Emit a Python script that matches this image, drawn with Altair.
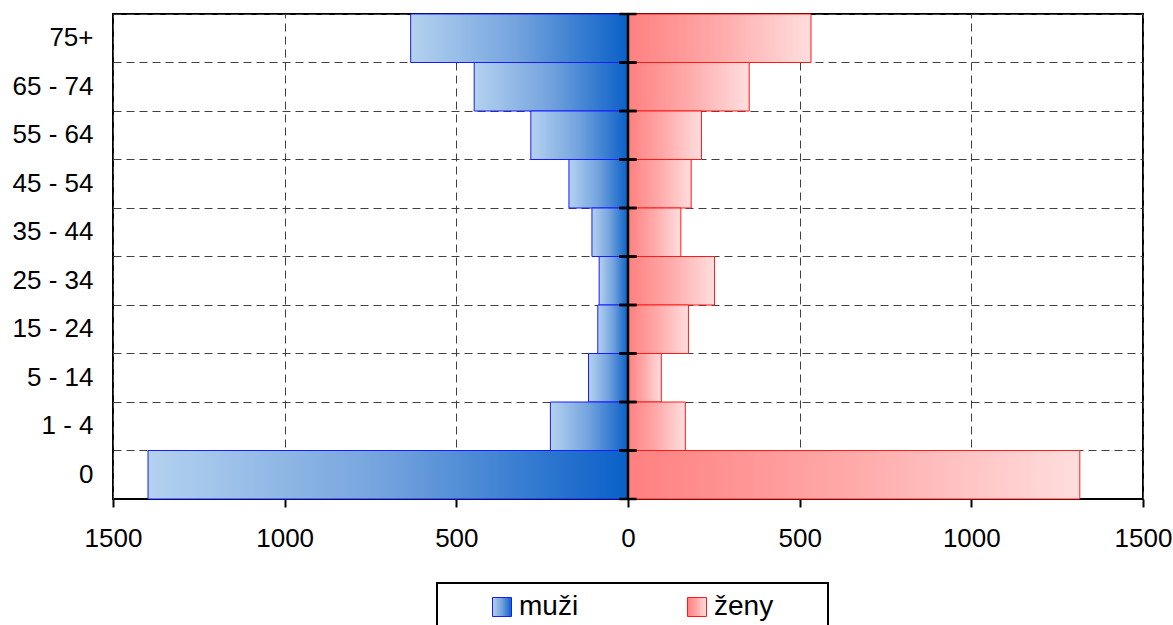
import altair as alt
import pandas as pd

# Age groups listed from the top row to the bottom row
age_groups = ["75+", "65 - 74", "55 - 64", "45 - 54", "35 - 44",
              "25 - 34", "15 - 24", "5 - 14", "1 - 4", "0"]
men = [633, 448, 283, 172, 105, 84, 88, 115, 226, 1398]
women = [533, 353, 214, 184, 154, 252, 176, 97, 167, 1316]
sexes = ["muži", "ženy"]
x_ticks = [-1500, -1000, -500, 0, 500, 1000, 1500]

rows = []
for age, m, w in zip(age_groups, men, women):
    rows.append({"age": age, "sex": sexes[0], "value": -m})
    rows.append({"age": age, "sex": sexes[1], "value": w})
df = pd.DataFrame(rows)

# small cross ticks on the zero axis, at every band boundary
tick_df = pd.DataFrame({"age": age_groups, "lo": [-25] * len(age_groups),
                        "hi": [25] * len(age_groups)})
zero_df = pd.DataFrame({"x": [0]})

FONT = "Liberation Sans"
GRID = "#404040"

men_fill = ("{gradient: 'linear', x1: 0, y1: 0, x2: 1, y2: 0, stops: ["
            "{offset: 0, color: '#b4d2f0'}, {offset: 0.5, color: '#72a2dd'}, "
            "{offset: 1, color: '#0a60c8'}]}")
women_fill = ("{gradient: 'linear', x1: 0, y1: 0, x2: 1, y2: 0, stops: ["
              "{offset: 0, color: '#ff8080'}, {offset: 0.5, color: '#ffaaaa'}, "
              "{offset: 1, color: '#ffdede'}]}")

x_scale = alt.Scale(domain=[-1500, 1500], nice=False)
y_scale = alt.Scale(paddingInner=0, paddingOuter=0)

x_axis = alt.Axis(values=x_ticks, labelExpr="abs(datum.value)", title=None,
                  tickSize=8, tickWidth=2, tickColor="black", domain=False,
                  labelFontSize=26, labelColor="black", labelPadding=18,
                  labelFlush=False,
                  grid=True, gridDash=[8, 5], gridColor=GRID, gridWidth=1)
y_axis = alt.Axis(title=None, ticks=False, domain=False, labelFontSize=26,
                  labelColor="black", labelPadding=20, grid=True,
                  bandPosition=0, gridDash=[8, 5], gridColor=GRID, gridWidth=1)

legend = alt.Legend(title=" ", titleOrient="right", titlePadding=45,
                    orient="none", legendX=324, legendY=569,
                    direction="horizontal", strokeColor="black", padding=10,
                    symbolType="square", symbolSize=361, symbolStrokeWidth=1,
                    symbolOffset=41, labelFontSize=28, labelColor="black",
                    labelOffset=3, columnPadding=63)

bars = alt.Chart(df).mark_bar(strokeWidth=1).encode(
    x=alt.X("value:Q", scale=x_scale, axis=x_axis),
    y=alt.Y("age:N", sort=age_groups, scale=y_scale, axis=y_axis),
    color=alt.Color("sex:N",
                    scale=alt.Scale(domain=sexes,
                                    range=[{"expr": men_fill}, {"expr": women_fill}]),
                    legend=legend),
    stroke=alt.Stroke("sex:N",
                      scale=alt.Scale(domain=sexes, range=["#1a1aff", "#ff1a1a"]),
                      legend=legend),
)

zero_line = alt.Chart(zero_df).mark_rule(color="black", strokeWidth=2.5).encode(
    x=alt.X("x:Q")
)

ticks_top = alt.Chart(tick_df).mark_rule(color="black", strokeWidth=2.5).encode(
    y=alt.Y("age:N", sort=age_groups, bandPosition=0),
    x=alt.X("lo:Q"), x2="hi:Q",
)
ticks_bottom = alt.Chart(tick_df).mark_rule(color="black", strokeWidth=2.5).encode(
    y=alt.Y("age:N", sort=age_groups, bandPosition=1),
    x=alt.X("lo:Q"), x2="hi:Q",
)

chart = alt.layer(bars, zero_line, ticks_top, ticks_bottom).properties(
    width=1030, height=485, autosize="none",
    padding={"left": 113, "top": 14, "right": 30, "bottom": 126},
).configure(font=FONT).configure_view(
    stroke="black", strokeWidth=2
).configure_legend(strokeWidth=2)

chart.save("out.html", embed_options={"renderer": "svg", "actions": False})
